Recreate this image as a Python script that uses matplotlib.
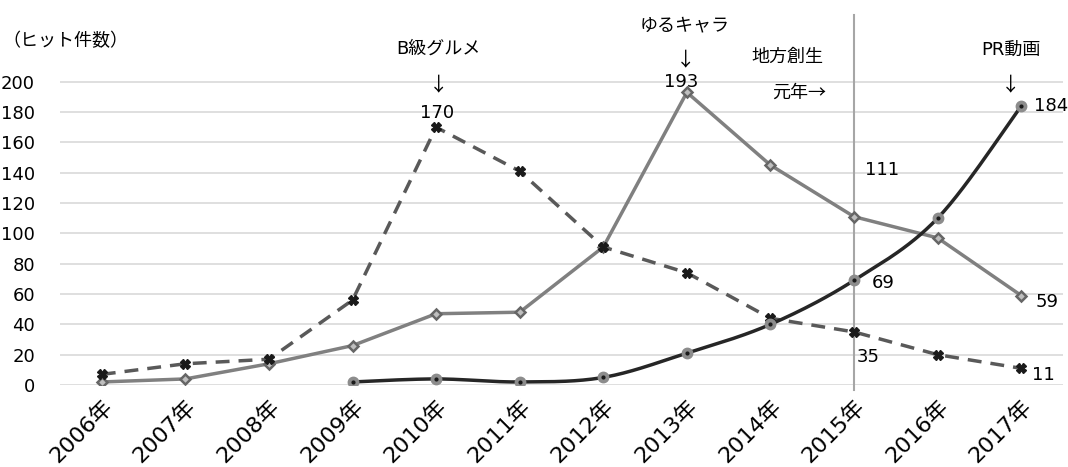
import numpy as np
import matplotlib
matplotlib.use("Agg")
import matplotlib.pyplot as plt

plt.rcParams['font.family'] = ['DejaVu Sans', 'Noto Sans CJK JP']
CJK = ['Noto Sans CJK JP', 'DejaVu Sans']

years = ["2006年", "2007年", "2008年", "2009年", "2010年", "2011年",
         "2012年", "2013年", "2014年", "2015年", "2016年", "2017年"]
b_gourmet = [7, 14, 17, 56, 170, 141, 91, 74, 44, 35, 20, 11]
yuru_chara = [2, 4, 14, 26, 47, 48, 91, 193, 145, 111, 97, 59]
pr_douga = [None, None, None, 2, 4, 2, 5, 21, 40, 69, 110, 184]
yticks = list(range(0, 201, 20))

W, H = 1068, 467
fig = plt.figure(figsize=(W / 100, H / 100), dpi=100)
ax = fig.add_axes([60 / W, (H - 385) / H, (1063 - 60) / W, (385 - 15) / H])

x = np.arange(len(years))


def smooth(xs, ys, n=30):
    """Bezier smoothing through the points (Catmull-Rom style control points)."""
    xs = np.asarray(xs, float)
    ys = np.asarray(ys, float)
    px, py = [], []
    for i in range(len(xs) - 1):
        p0 = np.array([xs[max(i - 1, 0)], ys[max(i - 1, 0)]])
        p1 = np.array([xs[i], ys[i]])
        p2 = np.array([xs[i + 1], ys[i + 1]])
        p3 = np.array([xs[min(i + 2, len(xs) - 1)], ys[min(i + 2, len(xs) - 1)]])
        c1 = p1 + (p2 - p0) / 6
        c2 = p2 - (p3 - p1) / 6
        t = np.linspace(0, 1, n)[:, None]
        pts = ((1 - t) ** 3) * p1 + 3 * ((1 - t) ** 2) * t * c1 + 3 * (1 - t) * t ** 2 * c2 + t ** 3 * p2
        px.extend(pts[:, 0])
        py.extend(pts[:, 1])
    return np.array(px), np.array(py)


# grid
for v in yticks:
    ax.axhline(v, color="#d9d9d9", lw=1.2, zorder=0)

# 2015 marker line
ax.plot([9, 9], [-3, 244], color="#a6a6a6", lw=1.5, zorder=1, clip_on=False)

# B級グルメ (dashed)
ax.plot(x, b_gourmet, color="#595959", lw=2.5, ls=(0, (4, 2.6)), zorder=3)
ax.plot(x, b_gourmet, ls="none", marker="X", ms=6.5, mfc="#1a1a1a", mec="#1a1a1a", zorder=4)

# ゆるキャラ
ax.plot(x, yuru_chara, color="#808080", lw=2.5, zorder=3, marker="D", ms=5.5,
        mfc="#bfbfbf", mec="#666666", mew=1.8)

# PR動画 (smoothed)
px_idx = [i for i, v in enumerate(pr_douga) if v is not None]
pv = [pr_douga[i] for i in px_idx]
sx, sy = smooth(px_idx, pv)
ax.plot(sx, sy, color="#262626", lw=2.5, zorder=3)
ax.plot(px_idx, pv, ls="none", marker="o", ms=7.5, mfc="#8c8c8c", mec="#8c8c8c", zorder=4)
ax.plot(px_idx, pv, ls="none", marker="o", ms=2, mfc="#1a1a1a", mec="#1a1a1a", zorder=5)

ax.set_xlim(-0.5, len(years) - 0.5)
ax.set_ylim(0, 244)
ax.set_yticks(yticks)
ax.set_xticks(x)
ax.set_xticklabels(years, rotation=45, ha="right", rotation_mode="anchor", fontsize=16)
ax.tick_params(axis="both", length=0, colors="#000000")
ax.tick_params(axis="y", pad=18, labelsize=13)
ax.tick_params(axis="x", pad=8)
for s in ax.spines.values():
    s.set_visible(False)


def label(xi, val, dx, dy):
    ax.annotate(str(val), (xi, val), xytext=(dx, dy),
                textcoords="offset pixels", ha="center", va="center", fontsize=13)


label(4, b_gourmet[4], 1, 14)
label(7, yuru_chara[7], -6, 10)
label(9, yuru_chara[9], 28, 47)
label(9, pr_douga[9], 29, -3)
label(9, b_gourmet[9], 14, -25)
label(11, pr_douga[11], 30, 0)
label(11, yuru_chara[11], 26, -6)
label(11, b_gourmet[11], 22, -7)


def ftext(px, py, s, ha="center", size=13, family=None):
    fig.text(px / W, 1 - py / H, s, ha=ha, va="center", fontsize=size,
             family=family if family else plt.rcParams['font.family'])


ftext(2, 41, "（ヒット件数）", ha="left")
ftext(438, 49, "B級グルメ")
ftext(439, 85, "↓", size=14, family=CJK)
ftext(685, 25, "ゆるキャラ")
ftext(686, 60, "↓", size=14, family=CJK)
ftext(787, 57, "地方創生")
ftext(799, 93, "元年→", family=CJK)
ftext(1011, 50, "PR動画")
ftext(1011, 85, "↓", size=14, family=CJK)

fig.savefig("out.png", dpi=100)
